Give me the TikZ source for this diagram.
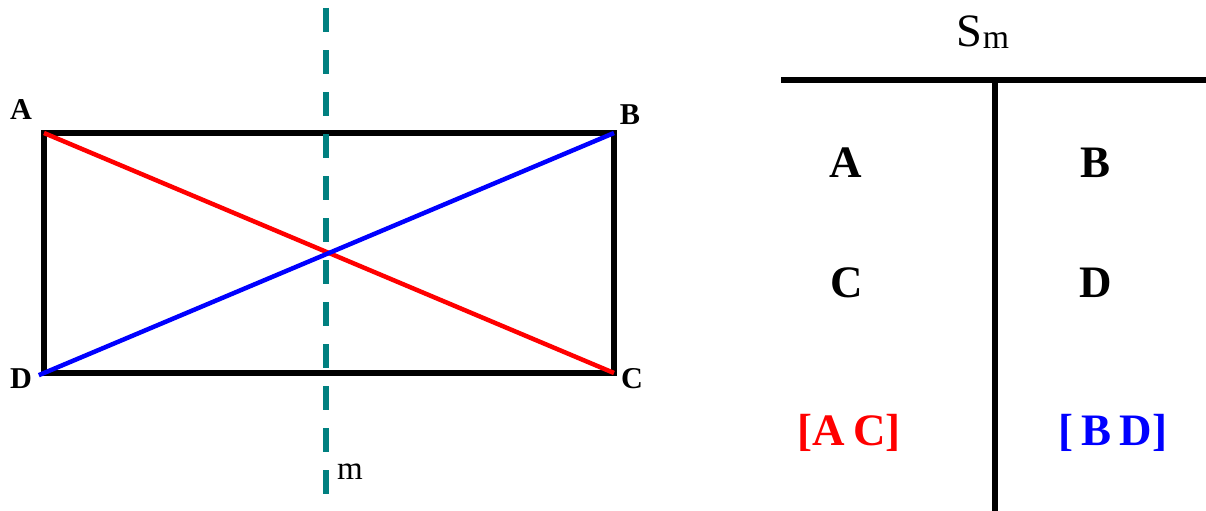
\documentclass[tikz,border=0pt]{standalone}
\usepackage{fontspec}
\setmainfont{Liberation Serif}
\usetikzlibrary{positioning}

\newcommand\tightgap{\spaceskip=0.18em\relax}

\tikzset{
    ptlabel/.style={inner sep=0pt, font=\bfseries\fontsize{21.5}{21.5}\selectfont},
    cell/.style={inner sep=0pt, font=\bfseries\fontsize{32}{32}\selectfont\tightgap},
    mirror/.style={teal, line width=4pt, dash pattern=on 17pt off 12.9pt},
}

\begin{document}
\begin{tikzpicture}[x=0.025cm, y=-0.025cm]

    % 定义核心参数（单位：像素）
    \def\xL{44}      % 矩形左边
    \def\xR{614}     % 矩形右边
    \def\yT{133}     % 矩形上边
    \def\yB{373}     % 矩形下边
    \def\xM{326}     % 对称轴 m 的横坐标
    \def\xV{995}     % 表格竖线
    \def\yH{80}      % 表格横线

    \useasboundingbox (0,0) rectangle (1206,511);

    % 1. 矩形的四个顶点
    \coordinate (A) at (\xL, \yT);
    \coordinate (B) at (\xR, \yT);
    \coordinate (C) at (\xR, \yB);
    \coordinate (D) at (\xL, \yB);

    % 2. 绘制矩形
    \draw[line width=4.2pt] (A) -- (B) -- (C) -- (D) -- cycle;

    % 3. 两条对角线
    \draw[red, line width=3.2pt] (A) -- (C);
    \draw[blue, line width=3.2pt, shorten <=-4pt] (D) -- (B);

    % 4. 对称轴 m（虚线）
    \coordinate (mtop) at (\xM, 8);
    \coordinate (mbot) at (\xM, 494);
    \draw[mirror] (mtop) -- (mbot);
    \node[anchor=base, inner sep=0pt, font=\fontsize{23.5}{23.5}\selectfont] (mlab) at (350, 480) {m};

    % 5. 顶点标注
    \node[ptlabel] (labA) at (21, 110) {A};
    \node[ptlabel] (labB) at (630, 115) {B};
    \node[ptlabel] (labC) at (632, 379) {C};
    \node[ptlabel] (labD) at (21, 379) {D};

    % 6. 表格线
    \coordinate (hl) at (781, \yH);
    \coordinate (hr) at (1206, \yH);
    \coordinate (vt) at (\xV, \yH);
    \coordinate (vb) at (\xV, 511);
    \draw[line width=3.6pt] (hl) -- (hr);
    \draw[line width=3.6pt] (vt) -- (vb);

    % 7. 表头 S_m
    \node[anchor=base, inner sep=0pt, font=\fontsize{33}{33}\selectfont] (head) at (983, 47)
        {S{\fontsize{24}{24}\selectfont\raisebox{-1pt}{m}}};

    % 8. 表格内容
    \node[cell] (tA) at (846, 163) {A};
    \node[cell] (tB) at (1095, 163) {B};
    \node[cell] (tC) at (847, 283) {C};
    \node[cell] (tD) at (1096, 283) {D};
    \node[cell, red] (tAC) at (849, 433) {[A C]};
    \node[cell, blue] (tBD) at (1113, 433) {[ B D]};

\end{tikzpicture}
\end{document}
